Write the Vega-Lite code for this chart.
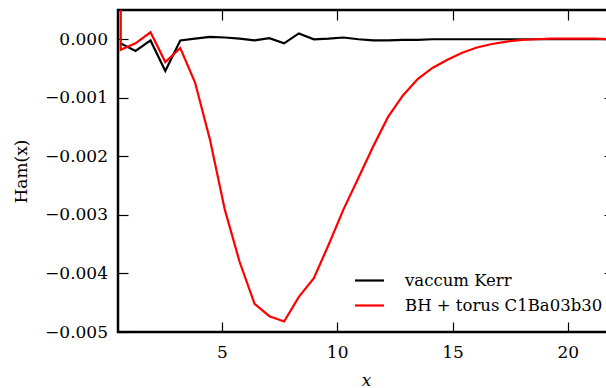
{
  "$schema": "https://vega.github.io/schema/vega-lite/v6.json",
  "width": 496,
  "height": 322,
  "autosize": {"type": "none"},
  "padding": {"left": 118, "top": 10, "right": 0, "bottom": 56},
  "config": {
    "view": {"stroke": "black", "strokeWidth": 2.5},
    "axis": {
      "domain": false,
      "grid": false,
      "tickColor": "black",
      "tickSize": -10,
      "tickWidth": 1.2,
      "labelFont": "DejaVu Serif",
      "labelFontSize": 17,
      "labelColor": "black",
      "titleFont": "DejaVu Serif",
      "titleFontSize": 17,
      "titleFontWeight": "normal",
      "titleColor": "black"
    }
  },
  "data": {
    "values": [
      {"s": "vaccum Kerr", "x": 0.62, "y": -0.00007},
      {"s": "vaccum Kerr", "x": 1.26, "y": -0.0002},
      {"s": "vaccum Kerr", "x": 1.91, "y": -0.00002},
      {"s": "vaccum Kerr", "x": 2.55, "y": -0.00054},
      {"s": "vaccum Kerr", "x": 3.2, "y": -0.00002},
      {"s": "vaccum Kerr", "x": 3.84, "y": 0.00001},
      {"s": "vaccum Kerr", "x": 4.49, "y": 0.00004},
      {"s": "vaccum Kerr", "x": 5.13, "y": 0.00003},
      {"s": "vaccum Kerr", "x": 5.77, "y": 0.00001},
      {"s": "vaccum Kerr", "x": 6.42, "y": -0.00002},
      {"s": "vaccum Kerr", "x": 7.06, "y": 0.00002},
      {"s": "vaccum Kerr", "x": 7.7, "y": -0.00007},
      {"s": "vaccum Kerr", "x": 8.34, "y": 0.0001},
      {"s": "vaccum Kerr", "x": 8.99, "y": 0.0},
      {"s": "vaccum Kerr", "x": 9.63, "y": 0.00001},
      {"s": "vaccum Kerr", "x": 10.27, "y": 0.00003},
      {"s": "vaccum Kerr", "x": 10.92, "y": 0.0},
      {"s": "vaccum Kerr", "x": 11.56, "y": -0.00002},
      {"s": "vaccum Kerr", "x": 12.2, "y": -0.00002},
      {"s": "vaccum Kerr", "x": 12.85, "y": -0.00001},
      {"s": "vaccum Kerr", "x": 13.49, "y": -0.00001},
      {"s": "vaccum Kerr", "x": 14.13, "y": 0.0},
      {"s": "vaccum Kerr", "x": 14.78, "y": 0.0},
      {"s": "vaccum Kerr", "x": 15.42, "y": 0.0},
      {"s": "vaccum Kerr", "x": 16.06, "y": 0.0},
      {"s": "vaccum Kerr", "x": 16.71, "y": 0.0},
      {"s": "vaccum Kerr", "x": 17.35, "y": 0.0},
      {"s": "vaccum Kerr", "x": 18.0, "y": 0.0},
      {"s": "vaccum Kerr", "x": 18.64, "y": 0.0},
      {"s": "vaccum Kerr", "x": 19.28, "y": 0.0},
      {"s": "vaccum Kerr", "x": 19.92, "y": 0.0},
      {"s": "vaccum Kerr", "x": 20.57, "y": 0.0},
      {"s": "vaccum Kerr", "x": 21.21, "y": 0.0},
      {"s": "vaccum Kerr", "x": 21.85, "y": 0.0},
      {"s": "BH + torus C1Ba03b30", "x": 0.615, "y": 0.003},
      {"s": "BH + torus C1Ba03b30", "x": 0.62, "y": -0.00018},
      {"s": "BH + torus C1Ba03b30", "x": 1.26, "y": -0.00007},
      {"s": "BH + torus C1Ba03b30", "x": 1.91, "y": 0.00012},
      {"s": "BH + torus C1Ba03b30", "x": 2.55, "y": -0.00039},
      {"s": "BH + torus C1Ba03b30", "x": 3.2, "y": -0.00015},
      {"s": "BH + torus C1Ba03b30", "x": 3.84, "y": -0.00074},
      {"s": "BH + torus C1Ba03b30", "x": 4.49, "y": -0.00172},
      {"s": "BH + torus C1Ba03b30", "x": 5.13, "y": -0.00291},
      {"s": "BH + torus C1Ba03b30", "x": 5.77, "y": -0.0038},
      {"s": "BH + torus C1Ba03b30", "x": 6.42, "y": -0.00452},
      {"s": "BH + torus C1Ba03b30", "x": 7.06, "y": -0.00473},
      {"s": "BH + torus C1Ba03b30", "x": 7.7, "y": -0.00482},
      {"s": "BH + torus C1Ba03b30", "x": 8.34, "y": -0.0044},
      {"s": "BH + torus C1Ba03b30", "x": 8.99, "y": -0.00408},
      {"s": "BH + torus C1Ba03b30", "x": 9.63, "y": -0.00351},
      {"s": "BH + torus C1Ba03b30", "x": 10.27, "y": -0.00291},
      {"s": "BH + torus C1Ba03b30", "x": 10.92, "y": -0.00237},
      {"s": "BH + torus C1Ba03b30", "x": 11.56, "y": -0.00183},
      {"s": "BH + torus C1Ba03b30", "x": 12.2, "y": -0.00133},
      {"s": "BH + torus C1Ba03b30", "x": 12.85, "y": -0.00096},
      {"s": "BH + torus C1Ba03b30", "x": 13.49, "y": -0.00068},
      {"s": "BH + torus C1Ba03b30", "x": 14.13, "y": -0.00049},
      {"s": "BH + torus C1Ba03b30", "x": 14.78, "y": -0.00035},
      {"s": "BH + torus C1Ba03b30", "x": 15.42, "y": -0.00023},
      {"s": "BH + torus C1Ba03b30", "x": 16.06, "y": -0.00014},
      {"s": "BH + torus C1Ba03b30", "x": 16.71, "y": -0.00008},
      {"s": "BH + torus C1Ba03b30", "x": 17.35, "y": -0.00004},
      {"s": "BH + torus C1Ba03b30", "x": 18.0, "y": -0.00001},
      {"s": "BH + torus C1Ba03b30", "x": 18.64, "y": 0.0},
      {"s": "BH + torus C1Ba03b30", "x": 19.28, "y": 0.00001},
      {"s": "BH + torus C1Ba03b30", "x": 19.92, "y": 0.00001},
      {"s": "BH + torus C1Ba03b30", "x": 20.57, "y": 0.00001},
      {"s": "BH + torus C1Ba03b30", "x": 21.21, "y": 0.00001},
      {"s": "BH + torus C1Ba03b30", "x": 21.85, "y": 0.0}
    ]
  },
  "layer": [
    {
      "mark": {"type": "line", "strokeWidth": 2.2, "clip": true},
      "encoding": {
        "x": {
          "field": "x", "type": "quantitative",
          "scale": {"domain": [0.5, 22], "nice": false, "zero": false},
          "axis": {"values": [5, 10, 15, 20], "labelPadding": 22, "title": "x", "titleFontStyle": "italic", "titlePadding": 12}
        },
        "y": {
          "field": "y", "type": "quantitative",
          "scale": {"domain": [-0.005, 0.0005], "nice": false, "zero": false},
          "axis": {"values": [0, -0.001, -0.002, -0.003, -0.004, -0.005], "format": ".3f", "labelPadding": 20.5, "title": "Ham(x)", "titlePadding": 14}
        },
        "color": {
          "field": "s", "type": "nominal",
          "scale": {"domain": ["vaccum Kerr", "BH + torus C1Ba03b30"], "range": ["black", "red"]},
          "legend": {
            "orient": "none", "legendX": 240, "legendY": 259, "title": null,
            "symbolType": "M-1.45,0H1.45", "symbolSize": 400, "symbolStrokeWidth": 2.2,
            "labelFont": "DejaVu Serif", "labelFontSize": 16.5, "labelColor": "black",
            "labelLimit": 0, "labelOffset": 24, "rowPadding": 5, "padding": 0
          }
        }
      }
    },
    {
      "mark": {"type": "line", "strokeOpacity": 0, "clip": true},
      "encoding": {
        "x": {
          "field": "x", "type": "quantitative",
          "axis": {"orient": "top", "values": [5, 10, 15, 20], "labels": false, "title": null}
        },
        "y": {
          "field": "y", "type": "quantitative",
          "axis": {"orient": "right", "values": [0, -0.001, -0.002, -0.003, -0.004, -0.005], "labels": false, "title": null}
        },
        "detail": {"field": "s"}
      }
    }
  ],
  "resolve": {"axis": {"x": "independent", "y": "independent"}}
}
